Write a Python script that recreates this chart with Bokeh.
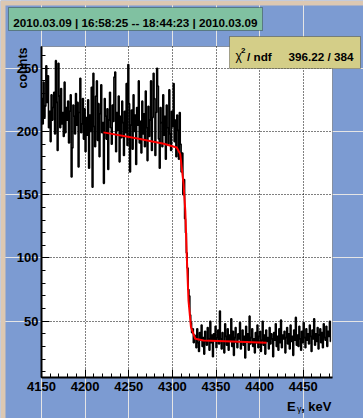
import numpy as np
from math import pi
from bokeh.plotting import figure
from bokeh.models import (Label, BoxAnnotation, FixedTicker, Range1d, LinearAxis, Grid)
from bokeh.embed import file_html
from bokeh.resources import INLINE

# ---- data ----
bin_start = 4150
bin_width = 1
counts_plateau = [
    226, 206, 239, 211, 220, 252, 223, 244, 203, 216, 192, 229, 209,
    219, 231, 198, 256, 223, 185, 254, 228, 203, 234, 206, 215, 196,
    239, 199, 219, 209, 224, 191, 216, 229, 164, 187, 221, 212, 198,
    230, 205, 223, 172, 215, 242, 199, 206, 226, 194, 218, 184, 211,
    197, 225, 171, 213, 200, 235, 156, 246, 204, 188, 228, 240, 193,
    222, 180, 214, 237, 199, 207, 159, 226, 212, 194, 218, 170, 209,
    231, 203, 190, 221, 208, 243, 247, 184, 215, 201, 228, 176, 212,
    195, 224, 207, 181, 216, 199, 238, 189, 253, 222, 168, 205, 217,
    186, 229, 200, 213, 174, 219, 205, 240, 191, 208, 183, 224, 198,
    214, 188, 232, 203, 177, 220, 196, 209, 240, 185, 211, 246, 226,
    181, 215, 250, 236, 194, 171, 219, 207, 188, 229, 197, 212, 178,
    221, 203, 190, 233, 198, 185, 216, 204, 238, 192, 209, 180, 213,
]
counts_edge = [201, 178, 215, 190, 168, 183, 150, 162, 131, 120,
               104, 92, 75, 70, 55, 49, 41, 44, 33, 39]
counts_tail = [
    38, 29, 44, 33, 26, 41, 35, 47, 30, 37, 24, 42, 34,
    31, 45, 36, 27, 50, 33, 39, 22, 40, 35, 46, 29, 37,
    43, 32, 58, 36, 28, 41, 34, 25, 48, 38, 31, 44, 27,
    39, 35, 52, 30, 42, 23, 37, 45, 33, 29, 40, 36, 49,
    28, 34, 43, 31, 38, 21, 46, 35, 40, 27, 54, 32, 37,
    44, 30, 36, 25, 41, 33, 47, 29, 38, 42, 26, 35, 50,
    31, 39, 24, 43, 34, 37, 28, 45, 32, 40, 36, 22, 41,
    35, 48, 30, 38, 27, 44, 33, 51, 29, 39, 36, 42, 25,
    37, 45, 32, 40, 28, 47, 34, 38, 23, 43, 35, 53, 31,
    39, 30, 46, 36, 27, 42, 33, 49, 37, 29, 44, 35, 40,
    32, 47, 38, 26, 43, 36, 52, 31, 40, 34, 45, 28, 39,
    44, 33, 41, 29, 48, 37, 35, 46, 30, 42, 38, 50, 34,
]

fit_x = [4221, 4260, 4290, 4298, 4305, 4309, 4312.8, 4314.8, 4316.7,
         4318.5, 4321.3, 4326.2, 4335.7, 4408]
fit_y = [199.3, 194.5, 190.3, 188.7, 187.3, 182.1, 158.4, 137.3, 97.7,
         66.1, 45.3, 36.1, 34.7, 32.9]

x_ticks = [4150, 4200, 4250, 4300, 4350, 4400, 4450]
y_ticks = [50, 100, 150, 200, 250]
title_text = "2010.03.09 | 16:58:25 -- 18:44:23 | 2010.03.09"
chi2_value = "396.22 / 384"

counts = counts_plateau + counts_edge + counts_tail
centers = bin_start + bin_width * (np.arange(len(counts)) + 0.5)

# axis limits of the histogram frame
X0, X1 = 4150, 4483.5
Y0, Y1 = 5.5, 267.2
FONT = "Liberation Sans"

# frame placement (page pixels) -> whole canvas is used as Bokeh frame
W, H = 363, 418
FL, FR, FT, FB = 41, 332, 46, 377
sx = (X1 - X0) / (FR - FL)
sy = (Y1 - Y0) / (FB - FT)

def px2x(px):
    return X0 + (px - FL) * sx

def py2y(py):
    return Y1 - (py - FT) * sy

p = figure(width=W, height=H,
           x_range=Range1d(px2x(0), px2x(W)), y_range=Range1d(py2y(H), py2y(0)),
           output_backend="svg", toolbar_location=None, title=None,
           x_axis_location=None, y_axis_location=None,
           min_border=0, min_border_left=0, min_border_right=0,
           min_border_top=0, min_border_bottom=0)
p.outline_line_color = None
p.background_fill_color = "#7c9bd2"
p.border_fill_color = "#7c9bd2"

# beige outer bevel (top and left)
p.add_layout(BoxAnnotation(left=px2x(0), right=px2x(W), top=py2y(0), bottom=py2y(5),
                           fill_color="#dcc8b2", fill_alpha=1, line_color=None, level="underlay"))
p.add_layout(BoxAnnotation(left=px2x(0), right=px2x(5), top=py2y(0), bottom=py2y(H),
                           fill_color="#dcc8b2", fill_alpha=1, line_color=None, level="underlay"))

# white plot area with frame
p.add_layout(BoxAnnotation(left=X0, right=X1, bottom=Y0, top=Y1, fill_color="white",
                           fill_alpha=1, line_color="black", line_width=1, level="underlay"))

xt = FixedTicker(ticks=x_ticks, minor_ticks=list(range(4150, 4490, 10)))
yt = FixedTicker(ticks=y_ticks, minor_ticks=list(range(10, 270, 10)))

for dim, tk, cb in ((0, xt, (Y0, Y1)), (1, yt, (X0, X1))):
    g = Grid(dimension=dim, ticker=tk, bounds=(X0, X1) if dim == 0 else (Y0, Y1),
             cross_bounds=cb, grid_line_color="black", grid_line_dash="1 2",
             grid_line_width=1)
    p.add_layout(g)

p.step(centers, counts, mode="center", line_color="black", line_width=1.6)
p.line(fit_x, fit_y, line_color="red", line_width=2)

xaxis = LinearAxis(ticker=xt, fixed_location=Y0, bounds=(X0, X1))
yaxis = LinearAxis(ticker=yt, fixed_location=X0, bounds=(Y0, Y1))
for ax in (xaxis, yaxis):
    ax.axis_line_width = 2
    ax.axis_line_color = "black"
    ax.major_tick_in = 8
    ax.major_tick_out = 0
    ax.minor_tick_in = 4
    ax.minor_tick_out = 0
    ax.major_tick_line_color = "black"
    ax.minor_tick_line_color = "black"
    ax.major_label_text_font = FONT
    ax.major_label_text_font_style = "bold"
    ax.major_label_text_font_size = "13px"
    ax.major_label_text_color = "black"
xaxis.major_label_standoff = 4
yaxis.major_label_standoff = 3
p.add_layout(xaxis, "below")
p.add_layout(yaxis, "left")

p.add_layout(BoxAnnotation(left=px2x(8), right=px2x(262), top=py2y(7), bottom=py2y(30),
                           fill_color="#80c1a1", fill_alpha=1, line_color="black", line_width=1))
p.add_layout(BoxAnnotation(left=px2x(229), right=px2x(360), top=py2y(36), bottom=py2y(68),
                           fill_color="#d4ce88", fill_alpha=1, line_color="black", line_width=1))

def lab(px, py, text, size="12px", align="left", angle=0, style="bold"):
    p.add_layout(Label(x=px2x(px), y=py2y(py), text=text, text_font=FONT,
                       text_font_style=style, text_font_size=size, text_align=align,
                       text_baseline="alphabetic", angle=angle, text_color="black"))

lab(12.7, 22, title_text, size="11.7px")
lab(235, 55.7, "\u03c7", size="12px", style="normal")
lab(240.5, 50, "2", size="8px")
lab(246.5, 55.7, "/ ndf", size="11.7px")
lab(353, 55.7, chi2_value, size="11.7px", align="right")
lab(22.7, 47, "counts", size="12.5px", align="right", angle=pi / 2)
lab(286.5, 405.7, "E", size="13px")
lab(296.5, 408.5, "\u03b3", size="9px", style="normal")
lab(331, 405.7, ", keV", size="13px", align="right")

open("out.html", "w").write(file_html(p, INLINE))
